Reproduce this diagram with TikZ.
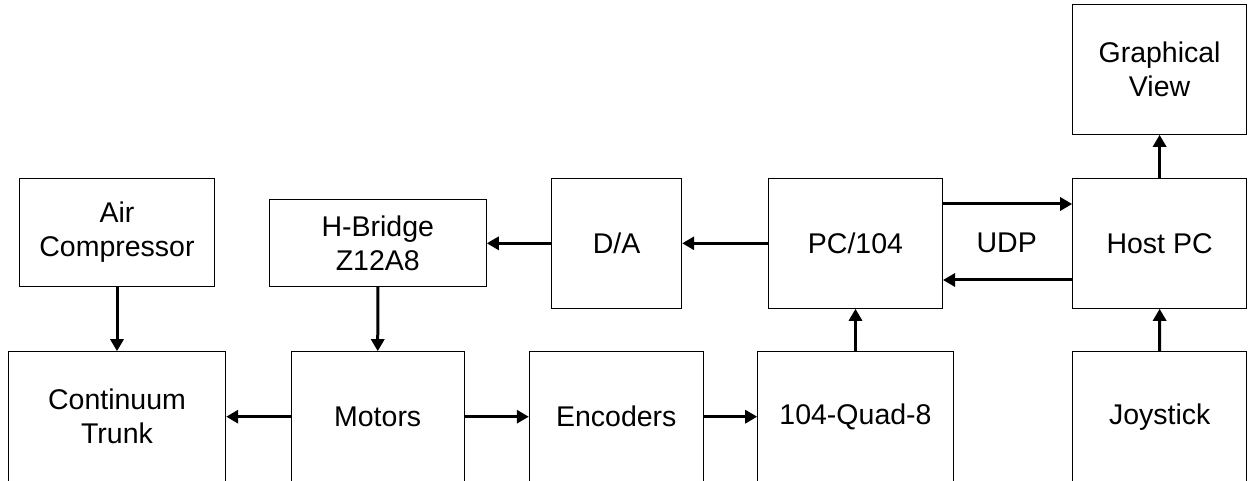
\documentclass[tikz,border=0pt]{standalone}
\usepackage{fontspec}
\setmainfont{Liberation Sans}
\usetikzlibrary{arrows.meta}
\begin{document}
\begin{tikzpicture}[x=1pt,y=-1pt,
  box/.style={draw=black,line width=1pt,inner sep=0pt,anchor=center,align=center,
    font=\fontsize{28.5}{34}\selectfont},
  lbl/.style={inner sep=0pt,anchor=center,font=\fontsize{28.5}{34}\selectfont},
  arr/.style={line width=3pt,-{Triangle[length=12pt,width=13pt]}}]
\useasboundingbox (0,0) rectangle (1251,481);
\clip (0,0) rectangle (1251,481);
% top row
\node[box,minimum width=195.4pt,minimum height=108.4pt] (air) at (117,232.5) {Air\\Compressor};
\node[box,minimum width=217pt,minimum height=86.7pt] (hb) at (377.8,243.3) {H-Bridge\\Z12A8};
\node[box,minimum width=130.4pt,minimum height=130pt] (da) at (616.5,243.3) {D/A};
\node[box,minimum width=174pt,minimum height=130pt] (pc) at (855.5,243.3) {PC/104};
\node[box,minimum width=173.8pt,minimum height=130pt] (host) at (1159.6,243.3) {Host PC};
\node[box,minimum width=173.8pt,minimum height=130pt] (gv) at (1159.6,69.3) {Graphical\\View};
% bottom row
\node[box,minimum width=217.4pt,minimum height=130pt] (ct) at (117,416.7) {Continuum\\Trunk};
\node[box,minimum width=173.3pt,minimum height=130pt] (mot) at (377.7,416.7) {Motors};
\node[box,minimum width=174pt,minimum height=130pt] (enc) at (616.3,416.7) {Encoders};
\node[box,minimum width=195.6pt,minimum height=130pt] (quad) at (855.5,416.7) {104-Quad-8};
\node[box,minimum width=174pt,minimum height=130pt] (joy) at (1159.7,416.7) {Joystick};
\node[lbl] (udp) at (1006.7,242.7) {UDP};
% connectors
\draw[arr] (air) -- (ct);
\draw[arr] (hb) -- (mot);
\draw[arr] (mot) -- (ct);
\draw[arr] (mot) -- (enc);
\draw[arr] (enc) -- (quad);
\draw[arr] (quad) -- (pc);
\draw[arr] (pc) -- (da);
\draw[arr] (da) -- (hb);
\draw[arr] (joy) -- (host);
\draw[arr] (host) -- (gv);
\draw[arr] ([yshift=39.3pt]pc.east) -- ([yshift=39.3pt]host.west);
\draw[arr] ([yshift=-36.7pt]host.west) -- ([yshift=-36.7pt]pc.east);
\end{tikzpicture}
\end{document}
